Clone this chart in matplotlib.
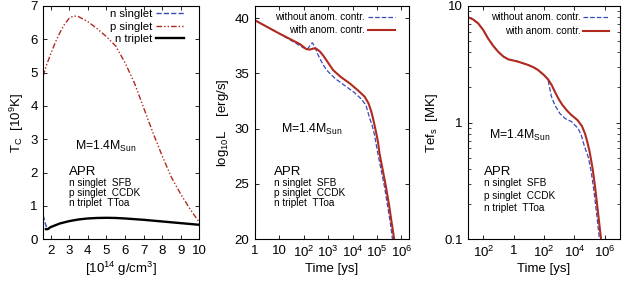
import numpy as np
import matplotlib
matplotlib.use("Agg")
import matplotlib.pyplot as plt

plt.rcParams['font.family'] = ['Liberation Sans', 'DejaVu Sans']
plt.rcParams['mathtext.default'] = 'regular'

# panel 1: critical temperatures vs density
ns_x = [1.6, 1.7, 1.8, 1.85]
ns_y = [0.72, 0.5, 0.33, 0.3]
ps_x = [1.6, 1.8, 2.0, 2.25, 2.5, 2.75, 3.0, 3.25, 3.5, 4.0, 4.5, 5.0, 5.5,
        6.0, 6.5, 7.0, 7.5, 8.0, 8.5, 9.0, 9.5, 10.0]
ps_y = [4.9, 5.25, 5.55, 5.9, 6.2, 6.45, 6.63, 6.7, 6.68, 6.53, 6.32, 6.08, 5.8,
        5.3, 4.7, 3.95, 3.2, 2.5, 1.85, 1.35, 0.9, 0.5]
nt_x = [1.75, 1.85, 2.0, 2.5, 3.0, 3.5, 4.0, 4.5, 5.0, 5.5, 6.0, 7.0, 8.0, 9.0, 10.0]
nt_y = [0.3, 0.3, 0.36, 0.47, 0.54, 0.59, 0.62, 0.635, 0.64, 0.635, 0.62, 0.58, 0.53, 0.48, 0.43]

# panel 2: log10 L vs log10 time
lum_red_lt = [0, 1, 1.84, 2.1, 2.24, 2.4, 2.5, 2.65, 2.8, 3.0, 3.2, 3.5, 3.88, 4.2,
              4.49, 4.65, 4.76, 4.85, 4.94, 5.04, 5.1, 5.37, 5.5, 5.6, 5.71]
lum_red = [39.8, 38.6, 37.65, 37.2, 37.15, 37.25, 37.25, 37.0, 36.6, 35.95, 35.3, 34.7,
           34.1, 33.5, 32.9, 32.3, 31.6, 30.8, 29.9, 28.8, 27.8, 24.7, 23.0, 21.5, 19.9]
lum_blue_lt = [0, 1, 2.0, 2.15, 2.25, 2.35, 2.45, 2.59, 2.75, 2.93, 3.3, 3.74, 4.05,
               4.35, 4.55, 4.69, 4.8, 4.9, 5.03, 5.31, 5.45, 5.55, 5.64]
lum_blue = [39.8, 38.6, 37.3, 37.2, 37.5, 37.77, 37.4, 36.65, 35.95, 35.3, 34.5, 33.8,
            33.3, 32.7, 32.1, 31.0, 30.3, 29.4, 27.8, 24.7, 22.8, 21.4, 19.9]

# panel 3: surface temperature vs log10 time
tef_red_lt = [-3, -2.7, -2.34, -2.0, -1.68, -1.35, -1.03, -0.7, -0.37, 0.29, 0.95, 1.3,
              1.61, 2.0, 2.26, 2.5, 2.7, 2.95, 3.2, 3.5, 3.8, 4.2, 4.5, 4.7, 4.85,
              4.99, 5.2, 5.36, 5.55, 5.76]
tef_red = [8.0, 7.7, 7.1, 6.2, 5.25, 4.55, 4.06, 3.7, 3.49, 3.33, 3.12, 2.98,
           2.82, 2.55, 2.35, 2.1, 1.85, 1.6, 1.42, 1.27, 1.16, 1.05, 0.93, 0.8, 0.68,
           0.57, 0.4, 0.28, 0.17, 0.098]
tef_blue_lt = [-3, -2.7, -2.34, -2.0, -1.68, -1.35, -1.03, -0.7, -0.37, 0.29, 0.95, 1.3,
               1.61, 2.0, 2.26, 2.38, 2.48, 2.7, 3.03, 3.4, 3.8, 4.24, 4.45, 4.65,
               4.92, 5.1, 5.25, 5.45, 5.65]
tef_blue = [8.0, 7.7, 7.1, 6.2, 5.25, 4.55, 4.06, 3.7, 3.49, 3.33, 3.12, 2.98,
            2.82, 2.55, 2.32, 1.95, 1.68, 1.42, 1.2, 1.08, 1.02, 0.89, 0.78, 0.63,
            0.5, 0.38, 0.28, 0.17, 0.098]

model_lines = ['n singlet  SFB', 'p singlet  CCDK', 'n triplet  TToa']

blue = '#3a48b8'
red = '#b02a20'
tick_fs = 9.5
lab_fs = 9.5

fig = plt.figure(figsize=(6.25, 2.84), dpi=100)
ax1 = fig.add_axes([0.069, 0.158, 0.25, 0.821])
ax2 = fig.add_axes([0.408, 0.158, 0.246, 0.821])
ax3 = fig.add_axes([0.749, 0.158, 0.243, 0.821])

for ax in (ax1, ax2, ax3):
    ax.tick_params(direction='in', top=True, right=True, labelsize=tick_fs,
                   length=3, width=0.6, pad=4)
    ax.tick_params(which='minor', direction='in', top=True, right=True, length=2, width=0.5)
    for s in ax.spines.values():
        s.set_linewidth(0.8)


def model_text(ax, mx, my, ax0, ay0, line_ys):
    ax.text(mx, my, 'M=1.4M$_{Sun}$', transform=ax.transAxes, fontsize=8.8, va='baseline')
    ax.text(ax0, ay0, 'APR', transform=ax.transAxes, fontsize=9.5, va='baseline')
    for t, y in zip(model_lines, line_ys):
        ax.text(ax0, y, t, transform=ax.transAxes, fontsize=7.2, va='baseline')


# panel 1
ax1.plot(ns_x, ns_y, color=blue, ls='--', lw=1, label='n singlet')
ax1.plot(ps_x, ps_y, color=red, ls=(0, (4, 1.5, 1, 1.5, 1, 1.5)), lw=1, label='p singlet')
ax1.plot(nt_x, nt_y, color='black', lw=1.7, label='n triplet')
ax1.set_xlim(1.6, 10)
ax1.set_ylim(0, 7)
ax1.set_xticks(range(2, 11))
ax1.set_yticks(range(0, 8))
ax1.set_xlabel('[10$^{14}$ g/cm$^3$]', fontsize=lab_fs, labelpad=2)
ax1.set_ylabel('T$_C$  [10$^9$K]', fontsize=lab_fs, labelpad=3)
ax1.legend(loc='upper right', bbox_to_anchor=(0.904, 0.988), frameon=False,
           markerfirst=False, fontsize=8.2, handlelength=2.5, labelspacing=0.25,
           borderpad=0, borderaxespad=0, handletextpad=0.3)
model_text(ax1, 0.205, 0.382, 0.167, 0.275, [0.228, 0.186, 0.144])

# panel 2
ax2.plot(10 ** np.array(lum_blue_lt), lum_blue, color=blue, ls='--', lw=0.9,
         label='without anom. contr.')
ax2.plot(10 ** np.array(lum_red_lt), lum_red, color=red, lw=1.5,
         label='with anom. contr.')
ax2.set_xscale('log')
ax2.set_xlim(1, 2e6)
ax2.set_ylim(20, 41.1)
ax2.set_xticks([1, 10, 1e2, 1e3, 1e4, 1e5, 1e6])
ax2.set_xticklabels(['1', '10', '10$^2$', '10$^3$', '10$^4$', '10$^5$', '10$^6$'])
ax2.xaxis.set_minor_locator(matplotlib.ticker.NullLocator())
ax2.set_yticks([20, 25, 30, 35, 40])
ax2.set_xlabel('Time [ys]', fontsize=lab_fs, labelpad=2)
ax2.set_ylabel('log$_{10}$L    [erg/s]', fontsize=lab_fs, labelpad=3)
ax2.legend(loc='upper right', bbox_to_anchor=(0.909, 0.974), frameon=False,
           markerfirst=False, fontsize=7.2, handlelength=2.7, labelspacing=0.3,
           borderpad=0, borderaxespad=0, handletextpad=0.25)
model_text(ax2, 0.169, 0.454, 0.123, 0.277, [0.228, 0.186, 0.144])

# panel 3
ax3.plot(10 ** np.array(tef_blue_lt), tef_blue, color=blue, ls='--', lw=0.9,
         label='without anom. contr.')
ax3.plot(10 ** np.array(tef_red_lt), tef_red, color=red, lw=1.5,
         label='with anom. contr.')
ax3.set_xscale('log')
ax3.set_yscale('log')
ax3.set_xlim(1e-3, 1e7)
ax3.set_ylim(0.1, 10)
ax3.set_xticks([1e-2, 1, 1e2, 1e4, 1e6])
ax3.set_xticklabels(['10$^2$', '1', '10$^2$', '10$^4$', '10$^6$'])
ax3.xaxis.set_minor_locator(matplotlib.ticker.NullLocator())
ax3.set_yticks([0.1, 1, 10])
ax3.set_yticklabels(['0.1', '1', '10'])
ax3.yaxis.set_minor_formatter(matplotlib.ticker.NullFormatter())
ax3.set_xlabel('Time [ys]', fontsize=lab_fs, labelpad=2)
ax3.set_ylabel('Tef$_s$  [MK]', fontsize=lab_fs, labelpad=3)
ax3.legend(loc='upper right', bbox_to_anchor=(0.928, 0.974), frameon=False,
           markerfirst=False, fontsize=7.2, handlelength=2.6, labelspacing=0.4,
           borderpad=0, borderaxespad=0, handletextpad=0.25)
model_text(ax3, 0.138, 0.432, 0.105, 0.275, [0.226, 0.172, 0.119])

fig.savefig('out.png', dpi=100)
